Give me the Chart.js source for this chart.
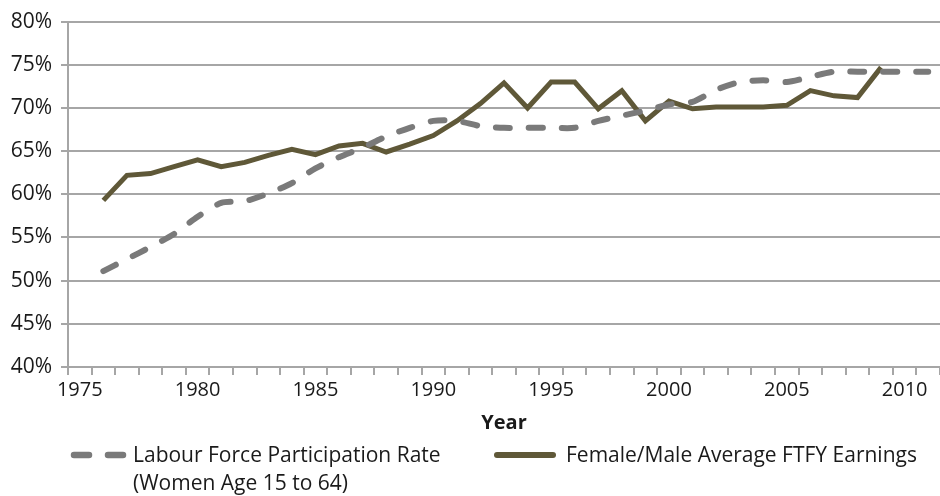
<!DOCTYPE html>
<html>
<head>
<meta charset="utf-8">
<script src="https://cdn.jsdelivr.net/npm/chart.js@4.4.1/dist/chart.umd.min.js"></script>
<style>
body{margin:0;background:#fff;}
#wrap{position:relative;width:940px;height:496px;}
.leg{position:absolute;font-family:"Open Sans",sans-serif;font-size:21px;line-height:28px;color:#1a1a1a;white-space:nowrap;}
svg{position:absolute;left:0;top:0;}
</style>
</head>
<body>
<div id="wrap">
<canvas id="chart" width="940" height="496"></canvas>
<svg width="940" height="496">
<line x1="74" y1="455" x2="123" y2="455" stroke="#7a7a7a" stroke-width="6.5" stroke-linecap="round" stroke-dasharray="15 19"/>
<line x1="497" y1="455" x2="553" y2="455" stroke="#5f5838" stroke-width="6" stroke-linecap="round"/>
</svg>
<div class="leg" style="left:133px;top:440px;">Labour Force Participation Rate<br>(Women Age 15 to 64)</div>
<div class="leg" style="left:566px;top:440px;">Female/Male Average FTFY Earnings</div>
</div>
<script>

/* data */

const years = ["1975","1976","1977","1978","1979","1980","1981","1982","1983","1984","1985","1986","1987","1988","1989","1990","1991","1992","1993","1994","1995","1996","1997","1998","1999","2000","2001","2002","2003","2004","2005","2006","2007","2008","2009","2010","2011"];

const participation = [null,51.1,52.5,53.9,55.4,57.4,59.0,59.2,60.1,61.3,63.0,64.3,65.4,66.7,67.7,68.5,68.5,67.9,67.7,67.7,67.7,67.7,68.5,69.1,69.7,70.4,70.7,72.1,73.0,73.2,73.0,73.6,74.2,74.2,74.2,74.2,74.2];

const earnings = [null,59.3,62.2,62.4,63.2,64.0,63.2,63.7,64.5,65.2,64.6,65.6,65.9,64.9,65.8,66.8,68.5,70.5,72.9,70.0,73.0,73.0,69.9,72.0,68.5,70.8,69.9,70.1,70.1,70.1,70.3,72.0,71.4,71.2,74.7,null,null];

const yMin = 40;
const yMax = 80;
const yStep = 5;

const gridColor = "#a6a6a6";
const textColor = "#1a1a1a";

new Chart(document.getElementById("chart"), {
type: "line",
data: {
labels: years,
datasets: [{
label: "Labour Force Participation Rate (Women Age 15 to 64)",
data: participation,
borderColor: "#7a7a7a",
borderWidth: 6,
borderDash: [14, 19],
borderCapStyle: "round",
tension: 0.25,
pointRadius: 0,
spanGaps: false
},{
label: "Female/Male Average FTFY Earnings",
data: earnings,
borderColor: "#5f5838",
borderWidth: 5,
borderJoinStyle: "miter",
tension: 0,
pointRadius: 0
}]
},
options: {
responsive: false,
animation: false,
layout: {padding: {top: 12, right: 0, bottom: 57, left: 0}},
plugins: {
legend: {display: false},
tooltip: {enabled: false}
},
scales: {
x: {
type: "category",
offset: true,
grid: {offset: true, drawOnChartArea: false, drawTicks: true, tickLength: 8, color: gridColor, lineWidth: 2},
border: {color: gridColor, width: 2},
ticks: {
autoSkip: false,
maxRotation: 0,
padding: 3,
color: textColor,
font: {family: "Open Sans", size: 20},
callback: function(val){
let y = this.getLabelForValue(val);
return Number(y) % 5 === 0 ? y : "";
}
},
title: {
display: true,
text: "Year",
color: textColor,
font: {family: "Open Sans", size: 20, weight: "bold"},
padding: {top: 0, bottom: 4}
},
afterFit: function(scale){ scale.height = 72; }
},
y: {
min: yMin,
max: yMax,
grid: {color: gridColor, lineWidth: 2, tickLength: 7},
border: {color: gridColor, width: 2},
ticks: {
stepSize: yStep,
padding: 9,
color: textColor,
font: {family: "Open Sans", size: 21},
callback: v => v + "%"
},
afterFit: function(scale){ scale.width = 68; }
}
}
}
});
</script>
</body>
</html>
